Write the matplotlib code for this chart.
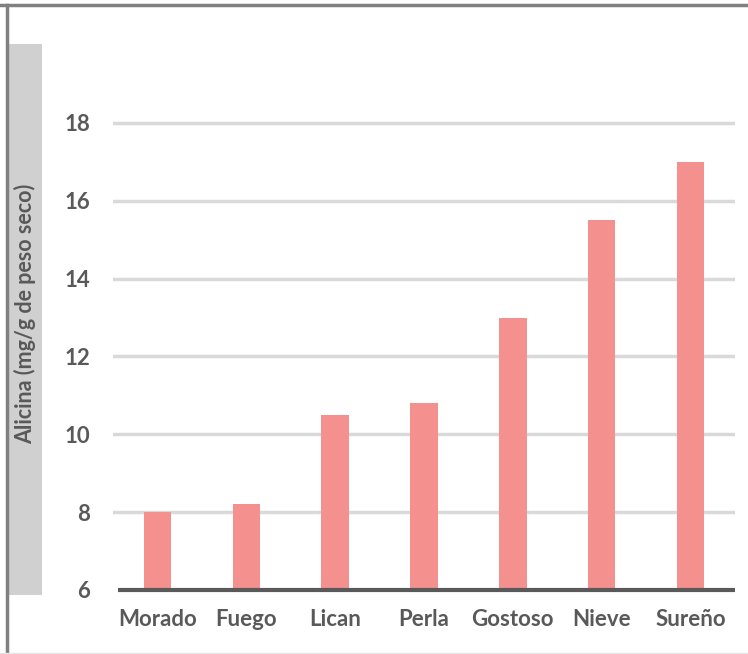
import matplotlib.pyplot as plt
from matplotlib.patches import Rectangle
from matplotlib.lines import Line2D

varieties = ["Morado", "Fuego", "Lican", "Perla", "Gostoso", "Nieve", "Sureño"]
alicina = [8.0, 8.2, 10.5, 10.8, 13.0, 15.5, 17.0]
y_ticks = [6, 8, 10, 12, 14, 16, 18]

BAR_COLOR = "#F4908D"
TEXT_COLOR = "#595959"
GRID_COLOR = "#D9D9D9"

plt.rcParams["font.family"] = ["Lato", "DejaVu Sans"]

W, H = 748, 654
fig = plt.figure(figsize=(W / 100, H / 100), dpi=100)

# outer frame: top and left edges, faint bottom edge
fig.add_artist(Line2D([0, 1], [1 - 5 / H, 1 - 5 / H], color="#808080", lw=2.5))
fig.add_artist(Line2D([7 / W, 7 / W], [0, 1 - 5 / H], color="#808080", lw=2.5))
fig.add_artist(Line2D([0, 1], [1.5 / H, 1.5 / H], color="#E6E6E6", lw=1))

# grey panel behind the y label
fig.add_artist(Rectangle((9 / W, 1 - 595 / H), 33 / W, 551 / H,
                         transform=fig.transFigure, color="#D0D0D0", lw=0))
fig.text(25 / W, 1 - 314 / H, "Alicina (mg/g de peso seco)", rotation=90,
         ha="center", va="center", fontsize=15.5, fontweight="bold",
         color=TEXT_COLOR)

ax = fig.add_axes([113 / W, 1 - 590 / H, 622 / W, 545 / H])
x = range(len(varieties))
ax.bar(x, alicina, width=0.31, bottom=0, color=BAR_COLOR, zorder=2)

ax.set_ylim(6, 20)
ax.set_xlim(-0.5, len(varieties) - 0.5)
ax.set_yticks(y_ticks)
ax.set_yticklabels([str(t) for t in y_ticks], fontsize=16, fontweight="bold",
                   color=TEXT_COLOR)
ax.set_xticks(list(x))
ax.set_xticklabels(varieties, fontsize=16, fontweight="bold", color=TEXT_COLOR)
ax.tick_params(axis="both", length=0)
ax.tick_params(axis="y", pad=16.5)
ax.tick_params(axis="x", pad=14)

for t in y_ticks[1:]:
    ax.axhline(t, color=GRID_COLOR, lw=2.5, zorder=1)
ax.plot([0.008, 1], [0, 0], transform=ax.transAxes, color="#595959",
        lw=3, zorder=3, clip_on=False, solid_capstyle="butt")

for side in ["top", "right", "left", "bottom"]:
    ax.spines[side].set_visible(False)

fig.savefig("out.png", dpi=100)
